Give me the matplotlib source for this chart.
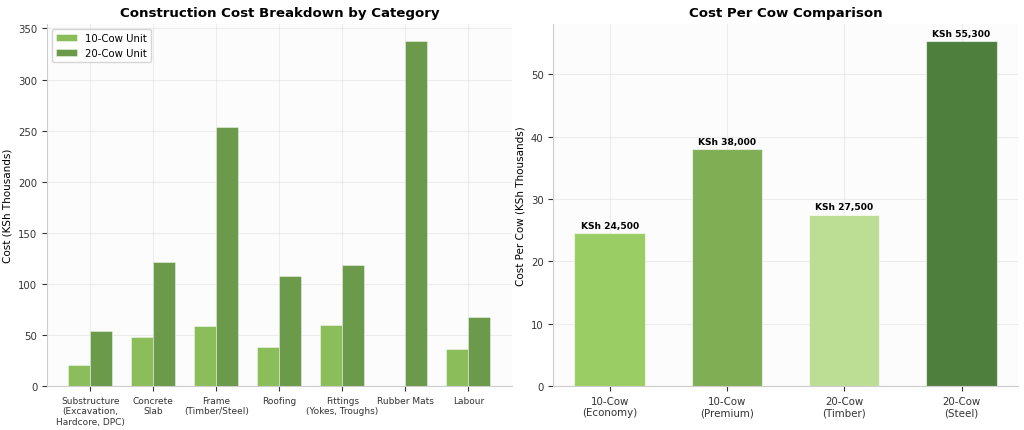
import matplotlib
matplotlib.use("Agg")
import matplotlib.pyplot as plt
import numpy as np

# Cost breakdown data (KSh thousands)
categories = ["Substructure\n(Excavation,\nHardcore, DPC)", "Concrete\nSlab", "Frame\n(Timber/Steel)",
              "Roofing", "Fittings\n(Yokes, Troughs)", "Rubber Mats", "Labour"]
cost_10cow = [21, 48, 58.5, 38.5, 60, 0, 36]
cost_20cow = [54, 121.5, 253.5, 108, 118.5, 337.5, 67.5]

# Per cow comparison (KSh thousands)
options = ["10-Cow\n(Economy)", "10-Cow\n(Premium)", "20-Cow\n(Timber)", "20-Cow\n(Steel)"]
per_cow = [24.5, 38.0, 27.5, 55.3]
per_cow_colors = ["#9ACD63", "#7FAE55", "#BCDD94", "#4F7F3D"]

fig, (ax1, ax2) = plt.subplots(1, 2, figsize=(10.24, 4.31), dpi=100)
fig.subplots_adjust(left=0.046, right=0.994, bottom=0.102, top=0.942, wspace=0.09)

for ax in (ax1, ax2):
    ax.set_facecolor("#FCFCFC")
    ax.spines["top"].set_visible(False)
    ax.spines["right"].set_visible(False)
    ax.spines["left"].set_color("#CCCCCC")
    ax.spines["bottom"].set_color("#CCCCCC")
    ax.grid(True, color="#DDDDDD", alpha=0.5, linewidth=0.8)
    ax.set_axisbelow(True)
    ax.tick_params(colors="#333333", labelsize=7.3)

# ------------------ Left: breakdown ------------------
x = np.arange(len(categories))
w = 0.35
ax1.bar(x - w / 2, cost_10cow, w, label="10-Cow Unit", color="#8BBE5A", edgecolor="#FFFFFF99", linewidth=0.5)
ax1.bar(x + w / 2, cost_20cow, w, label="20-Cow Unit", color="#6A9A4A", edgecolor="#FFFFFF99", linewidth=0.5)
ax1.set_xticks(x)
ax1.set_xticklabels(categories, fontsize=6.5)
ax1.set_ylabel("Cost (KSh Thousands)", fontsize=7.5)
ax1.set_title("Construction Cost Breakdown by Category", fontsize=9.6, fontweight="bold")
ax1.legend(loc="upper left", fontsize=7.3)

# ------------------ Right: per cow ------------------
xp = np.arange(len(options))
bars = ax2.bar(xp, per_cow, 0.6, color=per_cow_colors, edgecolor="#FFFFFF99", linewidth=0.8)
for b, v in zip(bars, per_cow):
    ax2.text(b.get_x() + b.get_width() / 2, v + 0.5, f"KSh {v * 1000:,.0f}",
             ha="center", va="bottom", fontsize=6.6, fontweight="bold")
ax2.set_xticks(xp)
ax2.set_xticklabels(options, fontsize=7.4)
ax2.set_ylabel("Cost Per Cow (KSh Thousands)", fontsize=7.5)
ax2.set_title("Cost Per Cow Comparison", fontsize=9.6, fontweight="bold")

plt.savefig("out.png")
